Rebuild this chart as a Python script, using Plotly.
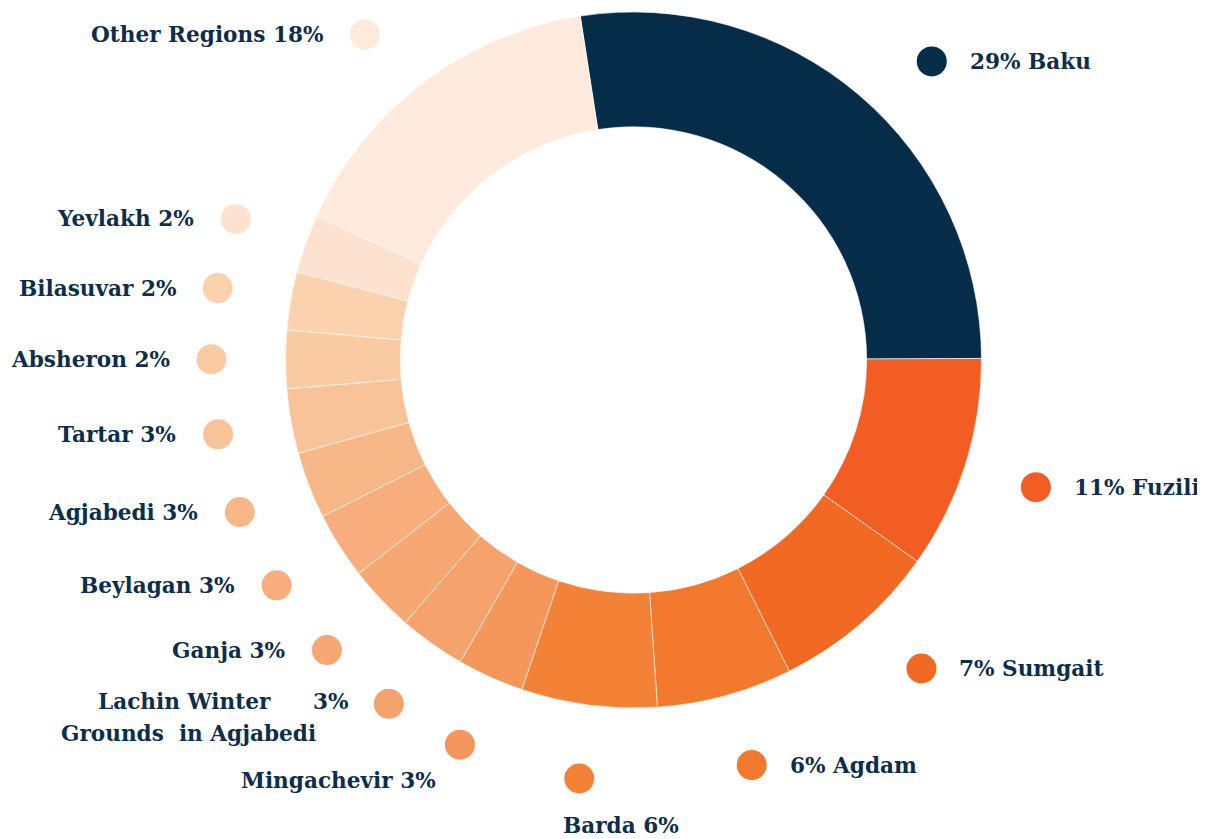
import numpy as np
import plotly.graph_objects as go

# Data (clockwise, starting with Baku)
regions = ["Baku", "Fuzili", "Sumgait", "Agdam", "Barda", "Mingachevir",
           "Lachin Winter Grounds in Agjabedi", "Ganja", "Beylagan", "Agjabedi",
           "Tartar", "Absheron", "Bilasuvar", "Yevlakh", "Other Regions"]
shares = [27.4, 9.9, 7.8, 6.3, 6.3, 3.1, 3.1, 3.1, 3.1, 3.1, 3.0, 2.7, 2.7, 2.7, 15.8]
label_pct = [29, 11, 7, 6, 6, 3, 3, 3, 3, 3, 3, 2, 2, 2, 18]

colors = ["#052c49", "#f15d22", "#f26924", "#f2792e", "#f38236", "#f5965a",
          "#f6a26c", "#f6a772", "#f7ae7c", "#f8b787", "#f9c39a", "#facaa3",
          "#fbd1ae", "#fde2cf", "#fdeadc"]

# small angular nudges (deg) for the label dots
dot_nudge = [4.5, 0, -2.4, -1, 0, 0, 0, 0, 0, 0, 0, 0, 0, 0, -2.3]

navy = "#0c2e4a"
W, H = 1205, 839
off = 8  # page body margin
cx, cy, R = 633.5 - off, 360 - off, 348
r_dot = 422
start = -8.8

fig = go.Figure()
fig.add_trace(go.Pie(
    labels=regions, values=shares, sort=False, direction="clockwise",
    rotation=start, hole=0.67, textinfo="none", hoverinfo="label+percent",
    marker=dict(colors=colors, line=dict(color="white", width=0.6)),
    domain=dict(x=[(cx - R) / W, (cx + R) / W], y=[1 - (cy + R) / H, 1 - (cy - R) / H]),
    showlegend=False,
))

# dot positions at slice mid-angles
vals = np.array(shares, dtype=float)
deg = vals / vals.sum() * 360
mid = np.radians(start + np.cumsum(deg) - deg / 2 + np.array(dot_nudge))
dx = cx + r_dot * np.sin(mid)
dy = cy - r_dot * np.cos(mid)

fig.add_trace(go.Scatter(
    x=dx, y=dy, mode="markers", hoverinfo="skip", showlegend=False,
    marker=dict(size=30, color=colors, line=dict(width=0)),
))

font = dict(family="DejaVu Serif", size=21.6, color=navy, weight="bold")
for i, name in enumerate(regions):
    ang = np.degrees(mid[i])
    pct = label_pct[i]
    if name == "Barda":
        fig.add_annotation(x=dx[i] + 42, y=dy[i] + 47, text=f"{name} {pct}%", xanchor="center")
    elif name == "Mingachevir":
        fig.add_annotation(x=dx[i] - 22, y=dy[i] + 36, text=f"{name} {pct}%", xanchor="right")
    elif name.startswith("Lachin"):
        fig.add_annotation(x=dx[i] - 38, y=dy[i] - 2, text=f"{pct}%", xanchor="right")
        fig.add_annotation(x=dx[i] - 204, y=dy[i] - 2, text="Lachin Winter", xanchor="center")
        fig.add_annotation(x=dx[i] - 200, y=dy[i] + 30, text="Grounds  in Agjabedi", xanchor="center")
    elif ang < 180:
        fig.add_annotation(x=dx[i] + 36, y=dy[i], text=f"{pct}% {name}", xanchor="left")
    else:
        fig.add_annotation(x=dx[i] - 40, y=dy[i], text=f"{name} {pct}%", xanchor="right")

fig.update_annotations(showarrow=False, yanchor="middle", font=font)

fig.update_layout(
    width=W, height=H, margin=dict(l=0, r=0, t=0, b=0),
    paper_bgcolor="white", plot_bgcolor="white",
    xaxis=dict(range=[0, W], visible=False, fixedrange=True),
    yaxis=dict(range=[H, 0], visible=False, fixedrange=True),
)

fig.write_html("out.html")
